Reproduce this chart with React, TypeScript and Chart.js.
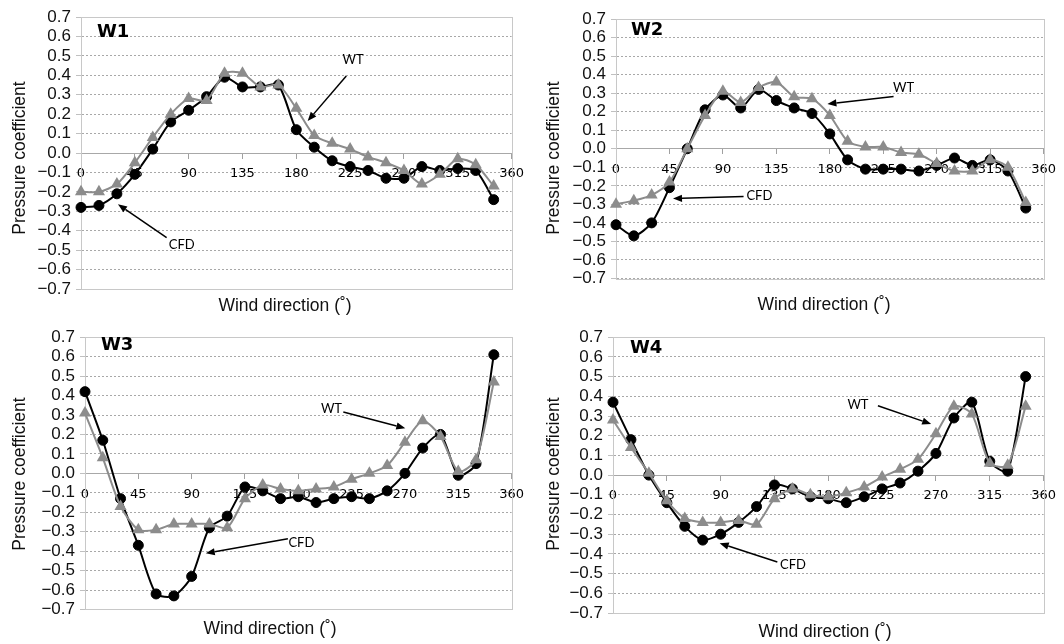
import React, { useEffect, useRef } from "react";
import { Chart, registerables } from "chart.js";
Chart.register(...registerables);

// ---------- data ----------
const windDirections = [0, 15, 30, 45, 60, 75, 90, 105, 120, 135, 150, 165, 180, 195, 210, 225, 240, 255, 270, 285, 300, 315, 330, 345];
const xTickLabels = [0, 45, 90, 135, 180, 225, 270, 315, 360];
const yTickLabels = [-0.7, -0.6, -0.5, -0.4, -0.3, -0.2, -0.1, 0, 0.1, 0.2, 0.3, 0.4, 0.5, 0.6, 0.7];

const w1Cfd = [-0.28, -0.27, -0.21, -0.11, 0.02, 0.16, 0.22, 0.29, 0.39, 0.34, 0.34, 0.35, 0.12, 0.03, -0.04, -0.07, -0.09, -0.13, -0.13, -0.07, -0.09, -0.08, -0.09, -0.24];
const w1Wt = [-0.2, -0.2, -0.16, -0.05, 0.08, 0.2, 0.28, 0.27, 0.41, 0.41, 0.34, 0.35, 0.23, 0.09, 0.05, 0.02, -0.02, -0.05, -0.09, -0.16, -0.11, -0.03, -0.06, -0.17];

const w2Cfd = [-0.41, -0.47, -0.4, -0.21, 0.0, 0.21, 0.29, 0.22, 0.32, 0.26, 0.22, 0.19, 0.08, -0.06, -0.11, -0.11, -0.11, -0.12, -0.09, -0.05, -0.09, -0.06, -0.12, -0.32];
const w2Wt = [-0.3, -0.28, -0.25, -0.18, 0.0, 0.18, 0.31, 0.25, 0.33, 0.36, 0.28, 0.27, 0.18, 0.04, 0.01, 0.01, -0.02, -0.03, -0.08, -0.12, -0.12, -0.06, -0.1, -0.29];

const w3Cfd = [0.42, 0.17, -0.13, -0.37, -0.62, -0.63, -0.53, -0.28, -0.22, -0.07, -0.09, -0.13, -0.12, -0.15, -0.13, -0.12, -0.13, -0.09, 0.0, 0.13, 0.2, -0.01, 0.05, 0.61];
const w3Wt = [0.31, 0.08, -0.17, -0.29, -0.29, -0.26, -0.26, -0.26, -0.28, -0.13, -0.06, -0.08, -0.09, -0.08, -0.07, -0.03, 0.0, 0.04, 0.16, 0.27, 0.19, 0.01, 0.07, 0.47];

const w4Cfd = [0.37, 0.18, 0.0, -0.14, -0.26, -0.33, -0.3, -0.24, -0.16, -0.05, -0.07, -0.11, -0.12, -0.14, -0.11, -0.07, -0.04, 0.02, 0.11, 0.29, 0.37, 0.07, 0.02, 0.5];
const w4Wt = [0.28, 0.14, 0.01, -0.13, -0.22, -0.24, -0.24, -0.23, -0.25, -0.12, -0.07, -0.1, -0.11, -0.09, -0.06, -0.01, 0.03, 0.08, 0.21, 0.35, 0.31, 0.06, 0.05, 0.35];

// annotation callouts, in data units: [text centre], [arrow tail], [arrow head]
const w1Notes = [
  { text: "WT", at: [227.5, 0.48], from: [221.8, 0.396], to: [189.5, 0.165] },
  { text: "CFD", at: [84.2, -0.47], from: [71.6, -0.436], to: [30.9, -0.264] },
];
const w2Notes = [
  { text: "WT", at: [242.2, 0.327], from: [233.7, 0.282], to: [178, 0.242] },
  { text: "CFD", at: [120.7, -0.253], from: [107.4, -0.257], to: [48, -0.269] },
];
const w3Notes = [
  { text: "WT", at: [208, 0.332], from: [218, 0.315], to: [270.3, 0.232] },
  { text: "CFD", at: [182.6, -0.356], from: [171.2, -0.336], to: [101.9, -0.411] },
];
const w4Notes = [
  { text: "WT", at: [204.8, 0.356], from: [221.5, 0.352], to: [266, 0.259] },
  { text: "CFD", at: [150.5, -0.454], from: [137.4, -0.441], to: [89.2, -0.346] },
];

// ---------- layout ----------
const CANVAS_W = 532;
const CANVAS_H = 322;

const panels = [
  { name: "W1", cfd: w1Cfd, wt: w1Wt, notes: w1Notes, pos: [0, 0],
    box: { left: 81, right: 517, top: 17, bottom: 289 }, label: [97, 37], yTitle: [20, 158], xTitle: [285, 306] },
  { name: "W2", cfd: w2Cfd, wt: w2Wt, notes: w2Notes, pos: [532, 0],
    box: { left: 84, right: 516, top: 19, bottom: 278.5 }, label: [99, 35], yTitle: [22, 158], xTitle: [292, 305] },
  { name: "W3", cfd: w3Cfd, wt: w3Wt, notes: w3Notes, pos: [0, 322],
    box: { left: 85, right: 516, top: 9, bottom: 287.5 }, label: [101, 28], yTitle: [20, 152], xTitle: [270, 307] },
  { name: "W4", cfd: w4Cfd, wt: w4Wt, notes: w4Notes, pos: [532, 322],
    box: { left: 81, right: 520, top: 12, bottom: 291 }, label: [98, 31], yTitle: [22, 152], xTitle: [293, 310] },
];

const fmtY = (v: number) => {
  const r = Math.round(v * 10) / 10;
  return (r < 0 ? "\u2212" : "") + Math.abs(r).toFixed(1);
};

function drawArrow(ctx: CanvasRenderingContext2D, x1: number, y1: number, x2: number, y2: number) {
  const ang = Math.atan2(y2 - y1, x2 - x1);
  const head = 9;
  const half = 3.6;
  const bx = x2 - head * Math.cos(ang);
  const by = y2 - head * Math.sin(ang);
  ctx.beginPath();
  ctx.moveTo(x1, y1);
  ctx.lineTo(bx, by);
  ctx.strokeStyle = "#000";
  ctx.lineWidth = 1.5;
  ctx.stroke();
  ctx.beginPath();
  ctx.moveTo(x2, y2);
  ctx.lineTo(bx + half * Math.sin(ang), by - half * Math.cos(ang));
  ctx.lineTo(bx - half * Math.sin(ang), by + half * Math.cos(ang));
  ctx.closePath();
  ctx.fillStyle = "#000";
  ctx.fill();
}

function Panel({ p }: { p: any }) {
  const ref = useRef<HTMLCanvasElement | null>(null);
  useEffect(() => {
    if (!ref.current) return;
    const decor = {
      id: "decor",
      beforeDatasetsDraw(chart: any) {
        const { ctx, chartArea: a } = chart;
        ctx.save();
        ctx.strokeStyle = "#c8c8c8";
        ctx.lineWidth = 1;
        ctx.strokeRect(Math.round(a.left) + 0.5, Math.round(a.top) + 0.5, Math.round(a.right - a.left), Math.round(a.bottom - a.top));
        ctx.restore();
      },
      afterDraw(chart: any) {
        const { ctx } = chart;
        const xs = chart.scales.x;
        const ys = chart.scales.y;
        ctx.save();
        // panel label
        ctx.fillStyle = "#000";
        ctx.font = "bold 18px 'DejaVu Sans'";
        ctx.textAlign = "left";
        ctx.textBaseline = "alphabetic";
        ctx.fillText(p.name, p.label[0], p.label[1]);
        // callouts
        ctx.font = "13px Lato";
        ctx.textAlign = "center";
        ctx.textBaseline = "middle";
        for (const n of p.notes) {
          ctx.fillStyle = "#000";
          ctx.fillText(n.text, xs.getPixelForValue(n.at[0]), ys.getPixelForValue(n.at[1]));
          drawArrow(ctx, xs.getPixelForValue(n.from[0]), ys.getPixelForValue(n.from[1]), xs.getPixelForValue(n.to[0]), ys.getPixelForValue(n.to[1]));
        }
        // axis titles
        ctx.fillStyle = "#111";
        ctx.font = "17.5px 'Liberation Sans'";
        ctx.textAlign = "center";
        ctx.textBaseline = "middle";
        ctx.fillText("Wind direction (\u02DA)", p.xTitle[0], p.xTitle[1]);
        ctx.translate(p.yTitle[0], p.yTitle[1]);
        ctx.rotate(-Math.PI / 2);
        ctx.fillText("Pressure coefficient", 0, 0);
        ctx.restore();
      },
    };
    const chart = new Chart(ref.current, {
      type: "line",
      data: {
        datasets: [
          {
            label: "WT",
            data: windDirections.map((d, i) => ({ x: d, y: p.wt[i] })),
            borderColor: "#8c8c8c",
            backgroundColor: "#8c8c8c",
            borderWidth: 2,
            pointStyle: "triangle",
            pointRadius: 7,
            pointBorderWidth: 0,
            tension: 0.25,
            clip: false,
          },
          {
            label: "CFD",
            data: windDirections.map((d, i) => ({ x: d, y: p.cfd[i] })),
            borderColor: "#000",
            backgroundColor: "#000",
            borderWidth: 2,
            pointStyle: "circle",
            pointRadius: 5,
            pointBorderWidth: 1,
            tension: 0.25,
            clip: false,
          },
        ],
      },
      options: {
        animation: false,
        responsive: false,
        maintainAspectRatio: false,
        layout: {
          padding: { left: 0, top: p.box.top, right: CANVAS_W - p.box.right, bottom: CANVAS_H - p.box.bottom },
        },
        plugins: { legend: { display: false }, tooltip: { enabled: false }, title: { display: false } },
        scales: {
          x: {
            type: "linear",
            min: 0,
            max: 360,
            position: { y: 0 } as any,
            afterBuildTicks: (s: any) => { s.ticks = xTickLabels.map((v) => ({ value: v })); },
            afterFit: (s: any) => { s.height = 0; },
            grid: { drawOnChartArea: false, drawTicks: true, tickLength: 5, tickColor: "#a0a0a0" },
            border: { display: true, color: "#a8a8a8", width: 1 },
            ticks: {
              font: { family: "DejaVu Sans", size: 13 },
              color: "#000",
              padding: 8,
              maxRotation: 0,
              autoSkip: false,
              callback: (v: any) => String(v),
            },
          },
          y: {
            type: "linear",
            min: -0.7,
            max: 0.7,
            afterBuildTicks: (s: any) => { s.ticks = yTickLabels.map((v) => ({ value: v })); },
            afterFit: (s: any) => { s.width = p.box.left; },
            grid: {
              color: (c: any) => (c.tick && Math.abs(c.tick.value) < 1e-9 ? "rgba(0,0,0,0)" : "#a8a8a8"),
              tickLength: 5,
              tickColor: "#c0c0c0",
              lineWidth: 1,
            },
            border: { display: true, color: "#c8c8c8", width: 1, dash: [2, 2] },
            ticks: {
              font: { family: "Liberation Sans", size: 17 },
              color: "#111",
              padding: 5,
              autoSkip: false,
              callback: (v: any) => fmtY(Number(v)),
            },
          },
        },
      },
      plugins: [decor],
    } as any);
    return () => chart.destroy();
  }, [p]);
  return (
    <canvas
      ref={ref}
      width={CANVAS_W}
      height={CANVAS_H}
      style={{ position: "absolute", left: p.pos[0], top: p.pos[1], width: CANVAS_W, height: CANVAS_H }}
    />
  );
}

export default function App() {
  return (
    <div style={{ position: "absolute", left: 0, top: 0, width: 1064, height: 644, background: "#fff", overflow: "hidden" }}>
      {panels.map((p) => (
        <Panel key={p.name} p={p} />
      ))}
    </div>
  );
}
